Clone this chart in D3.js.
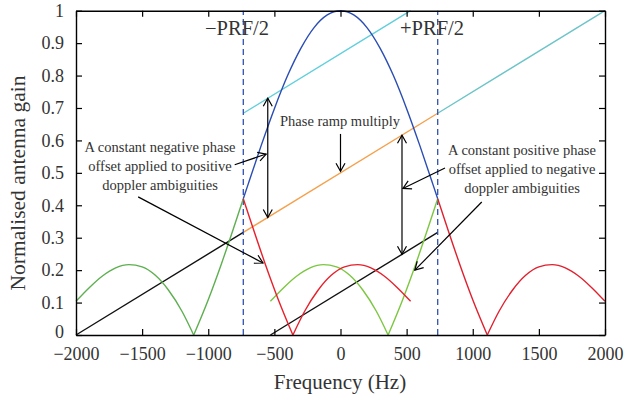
<!DOCTYPE html>
<html>
<head>
<meta charset="utf-8">
<script src="https://cdn.jsdelivr.net/npm/d3@7/dist/d3.min.js"></script>
<style>
  body { margin: 0; background: #fff; }
  svg { display: block; font-family: "Liberation Serif", "DejaVu Serif", serif; }
</style>
</head>
<body>
<div id="chart"></div>
<script>
// antenna pattern (positive half, pattern is symmetric)
const patternFreq = [0, 100, 200, 300, 400, 500, 600, 700, 735, 800, 900, 1000, 1110, 1200, 1300, 1400, 1500, 1600, 1700, 1800, 1900, 2000];
const patternGain = [1, 0.987, 0.948, 0.884, 0.80, 0.698, 0.584, 0.463, 0.42, 0.34, 0.22, 0.109, 0, 0.074, 0.138, 0.184, 0.21, 0.217, 0.207, 0.182, 0.146, 0.104];

// phase ramp line
const rampFreq = [-2000, 2000];
const rampGain = [0, 1];

const halfPRF = 735;
const PRF = 1470;

const xTicks = [-2000, -1500, -1000, -500, 0, 500, 1000, 1500, 2000];
const yTicks = [0, 0.1, 0.2, 0.3, 0.4, 0.5, 0.6, 0.7, 0.8, 0.9, 1];

// annotation arrows [f1, g1, f2, g2] and texts
const vArrows = [[-550, 0.73, -550, 0.3625], [465, 0.616, 465, 0.249]];
const oneArrows = [[0, 0.62, 0, 0.505], [-800, 0.525, -562, 0.558], [-1530, 0.426, -586, 0.222],
                   [790, 0.515, 472, 0.452], [1068, 0.41, 562, 0.2]];
const leftNote = ["A constant negative phase", "offset applied to positive", "doppler ambiguities"];
const rightNote = ["A constant positive phase", "offset applied to negative", "doppler ambiguities"];

const width = 626, height = 400;
const x = d3.scaleLinear().domain([-2000, 2000]).range([76, 605]);
const y = d3.scaleLinear().domain([0, 1]).range([335, 10.7]);
const ramp = d3.scaleLinear().domain(rampFreq).range(rampGain);

const svg = d3.select("#chart").append("svg")
  .attr("width", width).attr("height", height);

const defs = svg.append("defs");
defs.append("marker")
  .attr("id", "head")
  .attr("markerUnits", "userSpaceOnUse")
  .attr("viewBox", "-10 -6 12 12")
  .attr("refX", 0).attr("refY", 0)
  .attr("markerWidth", 12).attr("markerHeight", 12)
  .attr("orient", "auto-start-reverse")
  .append("path")
  .attr("d", "M-8,-4.5L0,0L-8,4.5")
  .attr("fill", "none").attr("stroke", "#000").attr("stroke-width", 1.2);

// full pattern from -2000 to 2000
let pattern = [];
for (let i = patternFreq.length - 1; i > 0; i--) pattern.push([-patternFreq[i], patternGain[i]]);
for (let i = 0; i < patternFreq.length; i++) pattern.push([patternFreq[i], patternGain[i]]);

function piece(lo, hi, shift) {
  return pattern.filter(d => d[0] >= lo && d[0] <= hi).map(d => [d[0] + shift, d[1]]);
}

const line = d3.line().x(d => x(d[0])).y(d => y(d[1])).curve(d3.curveMonotoneX);

// split at the nulls so they stay sharp
function drawPattern(pts, color) {
  let parts = [[]];
  pts.forEach(p => {
    parts[parts.length - 1].push(p);
    if (p[1] === 0) parts.push([p]);
  });
  parts.filter(p => p.length > 1).forEach(p => {
    svg.append("path").attr("d", line(p)).attr("fill", "none")
      .attr("stroke", color).attr("stroke-width", 1.4);
  });
}

function drawRamp(lo, hi, shift, color) {
  const pts = [[lo + shift, ramp(lo)], [hi + shift, ramp(hi)]];
  svg.append("path").attr("d", d3.line().x(d => x(d[0])).y(d => y(d[1]))(pts))
    .attr("fill", "none").attr("stroke", color).attr("stroke-width", 1.4);
}

// ramp segments
drawRamp(-2000, -halfPRF, 0, "#111");
drawRamp(-halfPRF, halfPRF, 0, "#f5a04c");
drawRamp(halfPRF, 2000, 0, "#6cc4c8");
drawRamp(-2000, -halfPRF, PRF, "#111");
drawRamp(halfPRF, 2000, -PRF, "#5fcfdc");

// dashed PRF/2 lines
[-halfPRF, halfPRF].forEach(f => {
  svg.append("line").attr("x1", x(f)).attr("x2", x(f)).attr("y1", y(0)).attr("y2", y(1))
    .attr("stroke", "#2f52b0").attr("stroke-width", 1.3).attr("stroke-dasharray", "6,4");
});

// pattern pieces
drawPattern(piece(-2000, -halfPRF, 0), "#5daf50");
drawPattern(piece(-2000, -halfPRF, PRF), "#7cc640");
drawPattern(piece(halfPRF, 2000, -PRF), "#e8202c");
drawPattern(piece(halfPRF, 2000, 0), "#e0202e");
drawPattern(piece(-halfPRF, halfPRF, 0), "#2a4db4");

// annotation arrows
vArrows.forEach(a => {
  svg.append("line").attr("x1", x(a[0])).attr("y1", y(a[1])).attr("x2", x(a[2])).attr("y2", y(a[3]))
    .attr("stroke", "#000").attr("stroke-width", 1.2)
    .attr("marker-start", "url(#head)").attr("marker-end", "url(#head)");
});
oneArrows.forEach(a => {
  svg.append("line").attr("x1", x(a[0])).attr("y1", y(a[1])).attr("x2", x(a[2])).attr("y2", y(a[3]))
    .attr("stroke", "#000").attr("stroke-width", 1.2)
    .attr("marker-end", "url(#head)");
});

function note(lines, cx, by) {
  const t = svg.append("text").attr("text-anchor", "middle").attr("font-size", 14.5).attr("fill", "#333");
  lines.forEach((s, i) => t.append("tspan").attr("x", cx).attr("y", by + i * 19).text(s));
}
note(leftNote, 160, 152);
note(rightNote, 522, 155);
svg.append("text").attr("x", 340).attr("y", 126).attr("text-anchor", "middle")
  .attr("font-size", 14.5).attr("fill", "#333").text("Phase ramp multiply");

svg.append("text").attr("x", 237).attr("y", 35).attr("text-anchor", "middle")
  .attr("font-size", 20.5).attr("fill", "#333").text("\u2212PRF/2");
svg.append("text").attr("x", 432).attr("y", 35).attr("text-anchor", "middle")
  .attr("font-size", 20.5).attr("fill", "#333").text("+PRF/2");

// axes, inward ticks on all four sides
const fmt = d => d < 0 ? "\u2212" + Math.abs(d) : String(d);
const gx = svg.append("g").attr("transform", `translate(0,${y(0)})`)
  .call(d3.axisBottom(x).tickValues(xTicks).tickSizeInner(-6).tickSizeOuter(0).tickPadding(12).tickFormat(fmt));
const gxt = svg.append("g").attr("transform", `translate(0,${y(1)})`)
  .call(d3.axisTop(x).tickValues(xTicks).tickSizeInner(-6).tickSizeOuter(0).tickFormat(""));
const gy = svg.append("g").attr("transform", `translate(${x(-2000)},0)`)
  .call(d3.axisLeft(y).tickValues(yTicks).tickSizeInner(-6).tickSizeOuter(0).tickPadding(12).tickFormat(d3.format("~g")));
const gyr = svg.append("g").attr("transform", `translate(${x(2000)},0)`)
  .call(d3.axisRight(y).tickValues(yTicks).tickSizeInner(-6).tickSizeOuter(0).tickFormat(""));

[gx, gxt, gy, gyr].forEach(g => {
  g.select(".domain").attr("stroke", "#000").attr("stroke-width", 1.4);
  g.selectAll(".tick line").attr("stroke", "#000").attr("stroke-width", 1.2);
  g.selectAll(".tick text").attr("font-size", 18).attr("fill", "#333")
    .attr("font-family", "'Liberation Serif', serif");
});
// lift the "0" label a little so it clears "-2000"
gy.selectAll(".tick text").filter(d => d === 0).attr("dy", "0.15em");

svg.append("text").attr("x", 340).attr("y", 389).attr("text-anchor", "middle")
  .attr("font-size", 21).attr("fill", "#333").text("Frequency (Hz)");
svg.append("text").attr("transform", "translate(25,183) rotate(-90)").attr("text-anchor", "middle")
  .attr("font-size", 21.5).attr("fill", "#333").text("Normalised antenna gain");
</script>
</body>
</html>
